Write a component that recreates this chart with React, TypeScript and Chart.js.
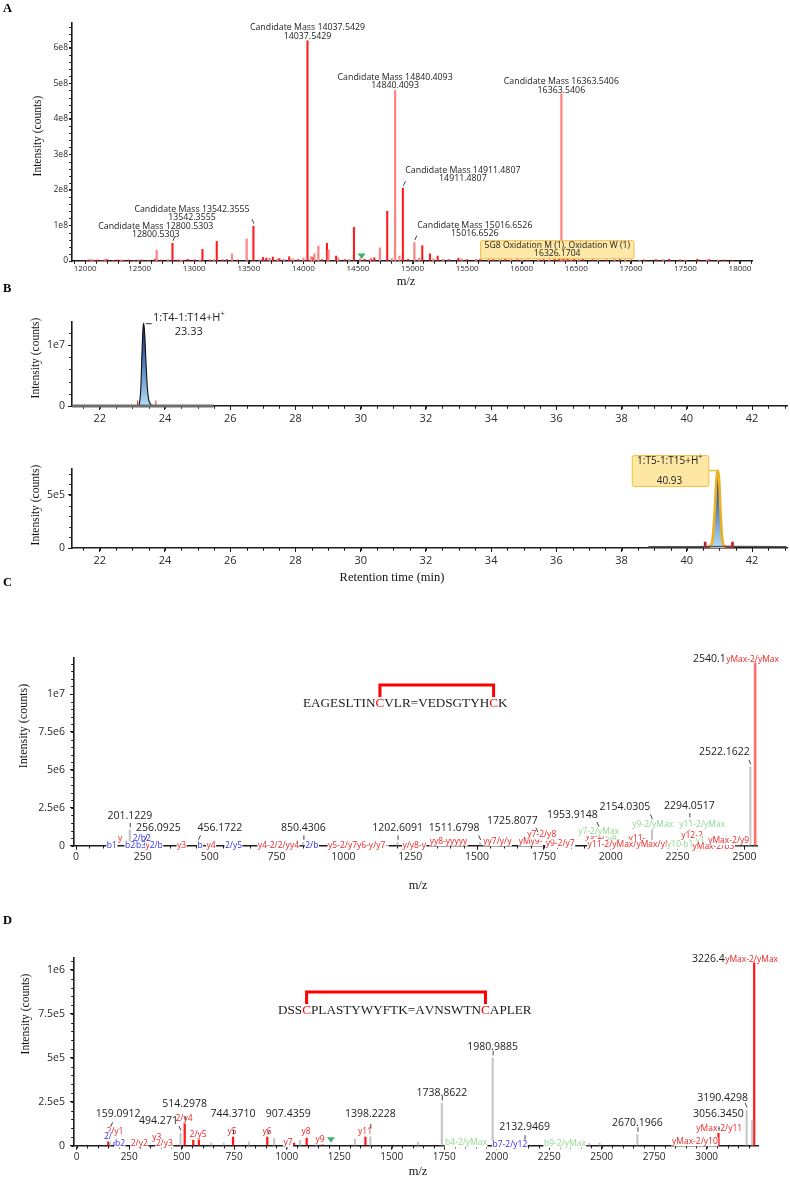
import React, { useEffect, useRef } from "react";
import { Chart, registerables } from "chart.js";

Chart.register(...registerables);

const SANS = '"Open Sans", "Noto Sans", "DejaVu Sans", sans-serif';
const SERIF = '"Liberation Serif", "Times New Roman", serif';
const AXIS = "#1c1c1c";
const TICK_TXT = "#2a2a2a";
const RED = "#f02323";
const BLUE = "#2e2ef2";
const GREEN = "#8fd98f";

// ================= Panel A : deconvoluted intact-mass spectrum =================
const A_X_TICKS = [12000, 12500, 13000, 13500, 14000, 14500, 15000, 15500, 16000, 16500, 17000, 17500, 18000];
const A_Y_TICKS = [0, 1e8, 2e8, 3e8, 4e8, 5e8, 6e8];
const A_RED_MZ = [12010, 12040, 12080, 12110, 12150, 12200, 12260, 12300, 12350, 12400, 12450, 12520, 12580, 12640, 12700, 12800.5303, 12850, 12900, 12940, 13000, 13075, 13140, 13206, 13260, 13300, 13400, 13542.3555, 13630, 13660, 13720, 13780, 13870, 13950, 14037.5429, 14090, 14170, 14216, 14300, 14380, 14463, 14560, 14620, 14650, 14768, 14911.4807, 14960, 15089, 15160, 15230, 15330, 15420, 15500, 15620, 15740, 15850, 15960, 16060, 16200, 16300, 16340, 16380, 16420, 16480, 16560, 16650, 16780, 16900, 17000, 17120, 17230, 17350, 17450, 17610, 17720, 17850, 17930];
const A_RED_INT = [2e6, 3e6, 2e6, 3e6, 2e6, 4e6, 2e6, 3e6, 2e6, 3e6, 2e6, 3e6, 2e6, 5e6, 3e6, 5e7, 3e6, 2e6, 5e6, 3e6, 3.3e7, 3e6, 5.5e7, 3e6, 4e6, 3e6, 9.8e7, 1e7, 8e6, 1.1e7, 7e6, 1.2e7, 4e6, 6.2e8, 1e7, 4e6, 5e7, 1.4e7, 4e6, 9.5e7, 5e6, 6e6, 9e6, 1.4e8, 2.05e8, 5e6, 4.3e7, 2e7, 1.4e7, 4e6, 8e6, 4e6, 5e6, 4e6, 6e6, 4e6, 3e6, 4e6, 6e6, 7e6, 6e6, 8e6, 6e6, 5e6, 4e6, 3e6, 4e6, 3e6, 3e6, 4e6, 5e6, 3e6, 5e6, 4e6, 3e6, 2e6];
const A_PINK_MZ = [12060, 12180, 12330, 12490, 12656, 12760, 12880, 13050, 13180, 13346, 13480, 13600, 13690, 13760, 13820, 13900, 14000, 14070, 14100, 14137, 14230, 14320, 14420, 14520, 14610, 14701, 14810, 14840.4093, 14880, 15016.6526, 15060, 15190, 15280, 15450, 15580, 15700, 15800, 15900, 16000, 16150, 16250, 16363.5406, 16400, 16450, 16520, 16700, 16850, 16950, 17080, 17300, 17500, 17700, 17800];
const A_PINK_INT = [4e6, 5e6, 3e6, 4e6, 3e7, 4e6, 3e6, 3e6, 4e6, 2e7, 6.2e7, 4e6, 8e6, 6e6, 5e6, 6e6, 8e6, 1.2e7, 2e7, 4.2e7, 3.1e7, 8e6, 5e6, 6e6, 5e6, 3.7e7, 7e6, 4.8e8, 1.4e7, 5.2e7, 8e6, 6e6, 5e6, 6e6, 5e6, 6e6, 5e6, 5e6, 4e6, 5e6, 5e6, 4.71e8, 7e6, 6e6, 5e6, 4e6, 5e6, 4e6, 3e6, 4e6, 3e6, 4e6, 3e6];
const A_CAND_MASS = [14037.5429, 14840.4093, 16363.5406, 14911.4807, 15016.6526, 13542.3555, 12800.5303];
const A_CAND_INT = [6.2e8, 4.8e8, 4.71e8, 2.05e8, 5.2e7, 9.8e7, 5e7];
const A_MOD_NAME = "5G8 Oxidation M (1), Oxidation W (1)";
const A_MOD_MASS = 16326.1704;
const A_MARKER_MZ = 14533;

// ================= Panel B : extracted ion chromatograms =================
const B_X_TICKS = [22, 24, 26, 28, 30, 32, 34, 36, 38, 40, 42];
const B_TOP_Y_TICKS = [0, 1e7];
const B_BOT_Y_TICKS = [0, 5e5];
const B_TOP_NAME = "1:T4-1:T14+H";
const B_TOP_RT = 23.33;
const B_TOP_T = [23.18, 23.22, 23.26, 23.3, 23.33, 23.35, 23.38, 23.42, 23.46, 23.5, 23.56, 23.64];
const B_TOP_INT = [0, 5e5, 3e6, 9.5e6, 1.3e7, 1.36e7, 1.18e7, 7e6, 3e6, 1.1e6, 3e5, 0];
const B_TOP_BASE_T = [21.15, 25.48];
const B_TOP_BASE_INT = [0, 0];
const B_TOP_INTEG_T = [23.16, 23.16, 23.72, 23.72];
const B_TOP_INTEG_INT = [9e5, 0, 0, 9e5];
const B_BOT_NAME = "1:T5-1:T15+H";
const B_BOT_RT = 40.93;
const B_BOT_T = [40.7, 40.76, 40.81, 40.86, 40.91, 40.95, 40.99, 41.03, 41.07, 41.12, 41.18];
const B_BOT_INT = [1.5e4, 4e4, 1.5e5, 3.8e5, 6.6e5, 7.3e5, 6.4e5, 3.6e5, 1.3e5, 3e4, 1.5e4];
const B_BOT_BASE_T = [38.82, 40.0, 41.5, 43.05];
const B_BOT_BASE_INT = [1.2e4, 1.2e4, 1.5e4, 1.2e4];
const B_BOT_INTEG_T = [40.56, 40.56, 41.4, 41.4];
const B_BOT_INTEG_INT = [6e4, 1e4, 1e4, 6e4];

// ================= Panel C : MS/MS of EAGESLTINCVLR=VEDSGTYHCK =================
const C_PEPTIDE = "EAGESLTINCVLR=VEDSGTYHCK";
const C_LINKED = [9, 22];
const C_X_TICKS = [0, 250, 500, 750, 1000, 1250, 1500, 1750, 2000, 2250, 2500];
const C_Y_TICKS = [0, 2.5e6, 5e6, 7.5e6, 1e7];
const C_GRAY_MZ = [201.1229, 256.0925, 456.1722, 850.4306, 1202.6091, 1511.6798, 1725.8077, 1953.9148, 2154.0305, 2294.0517, 2522.1622];
const C_GRAY_INT = [1.05e6, 2.2e5, 2.2e5, 2.2e5, 2.2e5, 2.2e5, 7.2e5, 1.1e6, 1.6e6, 1.7e6, 5.2e6];
const C_MAX_MZ = [2540.1];
const C_MAX_INT = [1.206e7];
const C_MAX_ION = "yMax-2/yMax";
const C_ION_TEXT = ["y", "2/b2", "b1", "b2", "b3", "y2", "2/b", "y3", "b", "y4", "2/y5", "y4-2/2/yy4", "2/b", "y5-2/y7y6-y/y7-", "y/y8-y", "yy8-yyyyy", "yy7/y/y", "yMy9-", "y9-2/y7", "y7-2/y8", "y9-2/y8", "y7-2/yMax", "y8-", "y11-", "y11-2/yMax/yMax/yMa", "y9-2/yMax", "y12-2", "y11-2/yMax", "y10-", "b1", "y1", "yMax-2/b3", "yMax-2/y9"];
const C_ION_MZ = [165, 246, 134, 202, 243, 277, 300, 395, 464, 505, 589, 757, 882, 1055, 1265, 1393, 1576, 1700, 1811, 1742, 1960, 1955, 2011, 2098, 2081, 2157, 2304, 2342, 2242, 2290, 2335, 2384, 2441];
const C_ION_COLOR = [RED, BLUE, BLUE, BLUE, BLUE, RED, BLUE, RED, BLUE, RED, BLUE, RED, BLUE, RED, RED, RED, RED, RED, RED, RED, RED, GREEN, GREEN, RED, RED, GREEN, RED, GREEN, GREEN, GREEN, GREEN, RED, RED];

// ================= Panel D : MS/MS of DSSCPLASTYWYFTK=AVNSWTNCAPLER =================
const D_PEPTIDE = "DSSCPLASTYWYFTK=AVNSWTNCAPLER";
const D_LINKED = [3, 23];
const D_X_TICKS = [0, 250, 500, 750, 1000, 1250, 1500, 1750, 2000, 2250, 2500, 2750, 3000];
const D_Y_TICKS = [0, 2.5e5, 5e5, 7.5e5, 1e6];
const D_GRAY_MZ = [159.0912, 300, 494.271, 640, 700, 820, 940, 1064, 1140, 1325, 1398.2228, 1625, 1738.8622, 1980.9885, 2132.9469, 2440, 2490, 2670.1966, 3190.4298, 3217];
const D_GRAY_INT = [9.3e4, 2.5e4, 7.2e4, 1.5e4, 1.5e4, 2e4, 4e4, 3e4, 2e4, 3.8e4, 8.4e4, 2e4, 2.43e5, 5.0e5, 2e4, 1.2e4, 1.5e4, 6.5e4, 2.03e5, 1.46e5];
const D_RED_MZ = [150, 514.2978, 555, 582, 744.371, 907.4359, 1035, 1095, 1170, 1375, 3056.345, 3226.4];
const D_RED_INT = [4e4, 1.29e5, 3e4, 6.5e4, 5e4, 5e4, 1.5e4, 4.4e4, 1.5e4, 5e4, 7e4, 1.04e6];
const D_BLUE_MZ = [180, 215];
const D_BLUE_INT = [2e4, 1.5e4];
const D_MAX_MZ = [3226.4];
const D_MAX_INT = [1.04e6];
const D_MAX_ION = "yMax-2/yMax";
const D_LABEL_MZ = [159.0912, 494.271, 514.2978, 744.371, 907.4359, 1398.2228, 1738.8622, 1980.9885, 2132.9469, 2670.1966, 3056.345, 3190.4298];
const D_LABEL_INT = [9.3e4, 7.2e4, 1.29e5, 5e4, 5e4, 8.4e4, 2.43e5, 5.0e5, 2e4, 6.5e4, 7e4, 2.03e5];
const D_LABEL_TEXT = ["159.0912", "494.271", "514.2978", "744.3710", "907.4359", "1398.2228", "1738.8622", "1980.9885", "2132.9469", "2670.1966", "3056.3450", "3190.4298"];
const D_ION_TEXT = ["2/y1", "2/", "b2", "2/y2", "y3", "2/y3", "2/y4", "2/y5", "y5", "y6", "y7", "y8", "y9", "y11", "b4-2/yMax", "b7-2/y12", "b9-2/yMax", "yMax-2/y11", "yMax-2/y10"];
const D_ION_MZ = [182, 149, 206, 298, 382, 417, 511, 578, 740, 906, 1006, 1092, 1159, 1373, 1854, 2063, 2325, 3060, 2944];
const D_ION_COLOR = [RED, BLUE, BLUE, RED, RED, RED, RED, RED, RED, RED, RED, RED, RED, RED, GREEN, BLUE, GREEN, RED, RED];
const D_MARKER_MZ = 1211;

// ----------------- layout / style tables (pixels) -----------------
const A_CAND_LAYOUT = [
  { dx: 0, dy1: -13, dy2: -4.6, lead: 0 },
  { dx: 0, dy1: -13, dy2: -5, lead: 0 },
  { dx: 0, dy1: -12, dy2: -3.6, lead: 0 },
  { dx: 60, dy1: -18, dy2: -10, lead: 1 },
  { dx: 60.5, dy1: -17.5, dy2: -9.5, lead: 1 },
  { dx: -61.5, dy1: -17, dy2: -8.5, lead: -1 },
  { dx: -16.7, dy1: -17, dy2: -8.5, lead: 1 },
];
const C_LABEL_DX = [0, 14, 22, 0, 0, -26, -25, -26, -27, 0, -26];
const C_LABEL_GAP = [14, 14, 14, 14, 14, 14, 14, 14, 14, 14, 15];
const C_ION_DY = [-7.4, -7.4, 0, 0, 0, 0, 0, 0, 0, 0, 0, 0, 0, 0, 0, -4, -4, -4, -2.4, -10.7, -9, -14, -6.4, -6.7, -1, -20.7, -10, -20.7, -1, -1, -4.7, 1, -5];
const D_LABEL_DX = [8, -22, 0, 0, 21, 0, 0, 0, 0, 0, 0, -24];
const D_LABEL_GAP = [15, 12, 19, 23, 23, 17, 10, 11, 15.5, 11, 19, 11.7];
const D_ION_DY = [-14, -8.7, -2.4, -2.4, -7.7, -2.4, -26.7, -10.7, -13.7, -13.7, -2.7, -13.7, -5.7, -13.7, -2.7, -0.7, -2.4, -17.4, -4];

// ----------------- helpers -----------------
function sci(v: number): string {
  if (v === 0) return "0";
  const e = Math.floor(Math.log10(Math.abs(v)) + 1e-9);
  const m = Math.round((v / Math.pow(10, e)) * 100) / 100;
  return `${m}e${e}`;
}
function pts(xs: number[], ys: number[]) {
  return xs.map((x, i) => ({ x, y: ys[i] }));
}
function argmax(a: number[]) {
  let k = 0;
  a.forEach((v, i) => {
    if (v > a[k]) k = i;
  });
  return k;
}

type AxisOpt = { min: number; max: number; ticks: number[]; size: number; tl: number; pad: number; fmt: (v: number) => string };

function xAxis(o: AxisOpt & { height: number }) {
  return {
    type: "linear",
    position: "bottom",
    min: o.min,
    max: o.max,
    offset: false,
    afterBuildTicks: (s: any) => {
      s.ticks = o.ticks.map((value) => ({ value }));
    },
    afterFit: (s: any) => {
      s.height = o.height;
    },
    grid: { display: true, offset: false, drawOnChartArea: false, drawTicks: true, tickLength: o.tl, tickColor: AXIS, tickWidth: 1 },
    border: { display: true, color: AXIS, width: 1.6 },
    ticks: { autoSkip: false, maxRotation: 0, minRotation: 0, padding: o.pad, color: TICK_TXT, font: { family: SANS, size: o.size }, callback: (v: any) => o.fmt(Number(v)) },
    title: { display: false },
  };
}
function yAxis(o: AxisOpt & { width: number }) {
  return {
    type: "linear",
    position: "left",
    min: o.min,
    max: o.max,
    afterBuildTicks: (s: any) => {
      s.ticks = o.ticks.map((value) => ({ value }));
    },
    afterFit: (s: any) => {
      s.width = o.width;
    },
    grid: { display: true, drawOnChartArea: false, drawTicks: true, tickLength: o.tl, tickColor: AXIS, tickWidth: 1 },
    border: { display: true, color: AXIS, width: 1.6 },
    ticks: { autoSkip: false, padding: o.pad, color: TICK_TXT, font: { family: SANS, size: o.size }, callback: (v: any) => o.fmt(Number(v)) },
    title: { display: false },
  };
}
function baseOptions(pad: { top: number; right: number }, xs: any, ys: any) {
  return {
    responsive: false,
    maintainAspectRatio: false,
    animation: false,
    devicePixelRatio: 1,
    events: [],
    layout: { padding: { top: pad.top, right: pad.right, left: 0, bottom: 0 } },
    plugins: { legend: { display: false }, tooltip: { enabled: false }, title: { display: false } },
    scales: { x: xs, y: ys },
  };
}
function minorTicks(xStep: number, yStep: number, len = 2.5) {
  return {
    id: "minorTicks",
    beforeDatasetsDraw(chart: any) {
      const { ctx, chartArea: a, scales } = chart;
      const x = scales.x;
      const y = scales.y;
      ctx.save();
      ctx.strokeStyle = AXIS;
      ctx.lineWidth = 1;
      ctx.beginPath();
      for (let n = Math.ceil(x.min / xStep); n <= Math.floor(x.max / xStep); n++) {
        const px = Math.round(x.getPixelForValue(n * xStep)) + 0.5;
        ctx.moveTo(px, a.bottom);
        ctx.lineTo(px, a.bottom + len + 0.8);
      }
      for (let m = Math.ceil(y.min / yStep); m <= Math.floor(y.max / yStep); m++) {
        const py = Math.round(y.getPixelForValue(m * yStep)) + 0.5;
        ctx.moveTo(a.left, py);
        ctx.lineTo(a.left - len - 0.8, py);
      }
      ctx.stroke();
      ctx.restore();
    },
  };
}
function drawYTitle(ctx: CanvasRenderingContext2D, cx: number, cy: number, size: number) {
  ctx.save();
  ctx.translate(cx, cy);
  ctx.rotate(-Math.PI / 2);
  ctx.font = `${size}px ${SERIF}`;
  ctx.fillStyle = "#111";
  ctx.textAlign = "center";
  ctx.textBaseline = "middle";
  ctx.fillText("Intensity (counts)", 0, 0);
  ctx.restore();
}
function drawXTitle(ctx: CanvasRenderingContext2D, text: string, cx: number, cy: number, size: number) {
  ctx.save();
  ctx.font = `${size}px ${SERIF}`;
  ctx.fillStyle = "#111";
  ctx.textAlign = "center";
  ctx.textBaseline = "middle";
  ctx.fillText(text, cx, cy);
  ctx.restore();
}
function leader(ctx: CanvasRenderingContext2D, px: number, top: number, dir: number) {
  ctx.save();
  ctx.strokeStyle = "#444";
  ctx.lineWidth = 1;
  ctx.beginPath();
  ctx.moveTo(px + 0.5, top - 2.5);
  ctx.lineTo(px + 0.5 + dir * 2, top - 7);
  ctx.stroke();
  ctx.restore();
}
function drawTriangle(ctx: CanvasRenderingContext2D, px: number, py: number) {
  ctx.save();
  ctx.fillStyle = "#3cb371";
  ctx.beginPath();
  ctx.moveTo(px - 4, py - 3);
  ctx.lineTo(px + 4, py - 3);
  ctx.lineTo(px, py + 2.5);
  ctx.closePath();
  ctx.fill();
  ctx.restore();
}
function drawPeptide(ctx: CanvasRenderingContext2D, seq: string, linked: number[], left: number, cy: number) {
  ctx.save();
  ctx.font = `13.2px ${SERIF}`;
  ctx.textBaseline = "middle";
  ctx.textAlign = "left";
  const centers: number[] = [];
  let x = left;
  for (let i = 0; i < seq.length; i++) {
    const ch = seq[i];
    const w = ctx.measureText(ch).width;
    ctx.fillStyle = linked.includes(i) ? "#ff0000" : "#1a1a1a";
    ctx.fillText(ch, x, cy);
    if (linked.includes(i)) centers.push(x + w / 2);
    x += w;
  }
  ctx.strokeStyle = "#ff0000";
  ctx.lineWidth = 3;
  ctx.lineJoin = "miter";
  ctx.beginPath();
  ctx.moveTo(centers[0], cy - 7);
  ctx.lineTo(centers[0], cy - 19);
  ctx.lineTo(centers[1], cy - 19);
  ctx.lineTo(centers[1], cy - 7);
  ctx.stroke();
  ctx.restore();
}
function drawIons(chart: any, texts: string[], mzs: number[], dys: number[], colors: string[]) {
  const { ctx, chartArea: a, scales } = chart;
  ctx.save();
  ctx.font = `8.5px ${SANS}`;
  ctx.textAlign = "center";
  ctx.textBaseline = "middle";
  texts.forEach((t, i) => {
    const px = scales.x.getPixelForValue(mzs[i]);
    const py = a.bottom + dys[i];
    const w = ctx.measureText(t).width;
    ctx.fillStyle = "#ffffff";
    ctx.fillRect(px - w / 2 - 0.5, py - 4.5, w + 1, 9);
    ctx.fillStyle = colors[i];
    ctx.fillText(t, px, py);
  });
  ctx.restore();
}
function drawNumLabels(chart: any, mzs: number[], ints: number[], texts: string[], dxs: number[], gaps: number[]) {
  const { ctx, scales } = chart;
  ctx.save();
  ctx.font = `10.5px ${SANS}`;
  ctx.fillStyle = "#222";
  ctx.textAlign = "center";
  ctx.textBaseline = "middle";
  mzs.forEach((m, i) => {
    const px = scales.x.getPixelForValue(m);
    const top = scales.y.getPixelForValue(ints[i]);
    ctx.fillText(texts[i], px + dxs[i], top - gaps[i]);
    leader(ctx, px, top, Math.sign(dxs[i]));
  });
  ctx.restore();
}
function drawMaxLabel(chart: any, mz: number, inten: number, ion: string) {
  const { ctx, scales } = chart;
  const px = scales.x.getPixelForValue(mz);
  const top = scales.y.getPixelForValue(inten);
  ctx.save();
  ctx.textBaseline = "middle";
  ctx.textAlign = "right";
  ctx.font = `10.5px ${SANS}`;
  ctx.fillStyle = "#222";
  ctx.fillText(mz.toFixed(1), px - 29.5, top - 4);
  ctx.textAlign = "left";
  ctx.font = `8.5px ${SANS}`;
  ctx.fillStyle = RED;
  ctx.fillText(ion, px - 29, top - 3.5);
  ctx.restore();
}

// ----------------- chart builders -----------------
function buildA() {
  const notes = {
    id: "notesA",
    afterDraw(chart: any) {
      const { ctx, chartArea: a, scales } = chart;
      const x = scales.x;
      const y = scales.y;
      ctx.save();
      ctx.font = `8.8px ${SANS}`;
      ctx.fillStyle = "#222";
      ctx.textAlign = "center";
      ctx.textBaseline = "middle";
      A_CAND_MASS.forEach((m, i) => {
        const o = A_CAND_LAYOUT[i];
        const px = x.getPixelForValue(m);
        const top = y.getPixelForValue(A_CAND_INT[i]);
        ctx.fillText(`Candidate Mass ${m.toFixed(4)}`, px + o.dx, top + o.dy1);
        ctx.fillText(m.toFixed(4), px + o.dx, top + o.dy2);
        if (o.lead !== 0) leader(ctx, px, top, o.lead);
      });
      // modification box
      const bx = x.getPixelForValue(A_MOD_MASS);
      ctx.font = `8.6px ${SANS}`;
      const w = ctx.measureText(A_MOD_NAME).width + 8;
      const bt = a.bottom - 20.3;
      ctx.fillStyle = "#fde8a8";
      ctx.strokeStyle = "#f2bf4c";
      ctx.lineWidth = 1;
      ctx.beginPath();
      ctx.roundRect(bx - w / 2, bt, w, 18, 1.5);
      ctx.fill();
      ctx.stroke();
      ctx.fillStyle = "#222";
      ctx.fillText(A_MOD_NAME, bx, bt + 5);
      ctx.fillText(A_MOD_MASS.toFixed(4), bx, bt + 13.2);
      drawTriangle(ctx, x.getPixelForValue(A_MARKER_MZ), a.bottom - 4.5);
      drawYTitle(ctx, 37.5, 136, 11.5);
      drawXTitle(ctx, "m/z", 406, 282, 12.5);
      ctx.restore();
    },
  };
  return {
    type: "bar",
    data: {
      datasets: [
        { data: pts(A_PINK_MZ, A_PINK_INT), backgroundColor: "#ff8585", barThickness: 1.6, grouped: false, borderWidth: 0 },
        { data: pts(A_RED_MZ, A_RED_INT), backgroundColor: "#ff1a1a", barThickness: 1.4, grouped: false, borderWidth: 0 },
      ],
    },
    options: baseOptions(
      { top: 23, right: 38 },
      xAxis({ min: 11880, max: 18110, ticks: A_X_TICKS, size: 8, tl: 3, pad: 0, fmt: (v) => String(v), height: 31 }),
      yAxis({ min: 0, max: 6.7e8, ticks: A_Y_TICKS, size: 8.5, tl: 3, pad: 1, fmt: sci, width: 72 })
    ),
    plugins: [minorTicks(100, 2e7, 2), notes],
  };
}

function gradientFill(peakMax: number) {
  return (c: any) => {
    const chart = c.chart;
    if (!chart.chartArea) return "rgba(0,0,0,0)";
    const y = chart.scales.y;
    const g = chart.ctx.createLinearGradient(0, y.getPixelForValue(peakMax), 0, y.getPixelForValue(0));
    g.addColorStop(0, "#14215c");
    g.addColorStop(0.45, "#4a78bd");
    g.addColorStop(1, "#b4dcf7");
    return g;
  };
}

function buildBTop() {
  const notes = {
    id: "notesBTop",
    afterDraw(chart: any) {
      const { ctx, scales } = chart;
      const i = argmax(B_TOP_INT);
      const ax = scales.x.getPixelForValue(B_TOP_T[i]);
      const ay = scales.y.getPixelForValue(B_TOP_INT[i]);
      ctx.save();
      ctx.strokeStyle = "#333";
      ctx.lineWidth = 1;
      ctx.beginPath();
      ctx.moveTo(ax + 2, ay + 0.5);
      ctx.lineTo(ax + 8, ay + 0.5);
      ctx.stroke();
      ctx.fillStyle = "#222";
      ctx.textBaseline = "middle";
      ctx.textAlign = "left";
      ctx.font = `11px ${SANS}`;
      const lx = ax + 9.3;
      const ly = ay - 5.6;
      ctx.fillText(B_TOP_NAME, lx, ly);
      const w = ctx.measureText(B_TOP_NAME).width;
      ctx.font = `7px ${SANS}`;
      ctx.fillText("+", lx + w + 0.5, ly - 4);
      ctx.font = `11px ${SANS}`;
      ctx.textAlign = "center";
      ctx.fillText(B_TOP_RT.toFixed(2), ax + 45, ay + 8.7);
      drawYTitle(ctx, 35.7, 66, 11.5);
      ctx.restore();
    },
  };
  return {
    type: "line",
    data: {
      datasets: [
        { data: pts(B_TOP_BASE_T, B_TOP_BASE_INT), borderColor: "#6e6e6e", borderWidth: 3, pointRadius: 0, fill: false, clip: false },
        { data: pts(B_TOP_T, B_TOP_INT), borderColor: "#111", borderWidth: 1.1, pointRadius: 0, fill: "origin", backgroundColor: gradientFill(1.36e7), tension: 0.4, cubicInterpolationMode: "monotone", clip: false },
        { data: pts(B_TOP_INTEG_T, B_TOP_INTEG_INT), borderColor: "#e03a3a", borderWidth: 1.1, pointRadius: 0, fill: false, tension: 0, clip: false },
      ],
    },
    options: baseOptions(
      { top: 30, right: 3 },
      xAxis({ min: 21.15, max: 43.07, ticks: B_X_TICKS, size: 11, tl: 4, pad: 2, fmt: (v) => String(v), height: 30 }),
      yAxis({ min: 0, max: 1.38e7, ticks: B_TOP_Y_TICKS, size: 10.5, tl: 4, pad: 3, fmt: sci, width: 72 })
    ),
    plugins: [minorTicks(0.5, 2e6, 2), notes],
  };
}

function buildBBot() {
  const notes = {
    id: "notesBBot",
    afterDraw(chart: any) {
      const { ctx, scales } = chart;
      const i = argmax(B_BOT_INT);
      const ax = scales.x.getPixelForValue(B_BOT_T[i]);
      const ay = scales.y.getPixelForValue(B_BOT_INT[i]);
      ctx.save();
      const bw = 76.6;
      const bh = 31;
      const br = ax - 9;
      const bt = ay - 15;
      ctx.strokeStyle = "#f0b93c";
      ctx.lineWidth = 1.5;
      ctx.beginPath();
      ctx.moveTo(br, ay);
      ctx.lineTo(ax - 1, ay);
      ctx.stroke();
      ctx.fillStyle = "#fde7a2";
      ctx.strokeStyle = "#f2bd45";
      ctx.lineWidth = 1;
      ctx.beginPath();
      ctx.roundRect(br - bw, bt, bw, bh, 2);
      ctx.fill();
      ctx.stroke();
      ctx.fillStyle = "#222";
      ctx.textBaseline = "middle";
      ctx.font = `10px ${SANS}`;
      const w = ctx.measureText(B_BOT_NAME).width;
      ctx.font = `6.5px ${SANS}`;
      const sw = ctx.measureText("+").width;
      const cx = br - bw / 2 - 1;
      const startX = cx - (w + sw) / 2;
      ctx.textAlign = "left";
      ctx.font = `10px ${SANS}`;
      ctx.fillText(B_BOT_NAME, startX, ay - 9);
      ctx.font = `6.5px ${SANS}`;
      ctx.fillText("+", startX + w + 0.3, ay - 13);
      ctx.font = `10px ${SANS}`;
      ctx.textAlign = "center";
      ctx.fillText(B_BOT_RT.toFixed(2), cx, ay + 10.3);
      drawYTitle(ctx, 35.7, 69, 11.5);
      drawXTitle(ctx, "Retention time (min)", 392, 142, 12.5);
      ctx.restore();
    },
  };
  return {
    type: "line",
    data: {
      datasets: [
        { data: pts(B_BOT_BASE_T, B_BOT_BASE_INT), borderColor: "#555", borderWidth: 1.3, pointRadius: 0, fill: false, clip: false },
        { data: pts(B_BOT_T, B_BOT_INT), borderColor: "#ecb021", borderWidth: 2.6, pointRadius: 0, fill: "origin", backgroundColor: gradientFill(7.3e5), tension: 0.4, cubicInterpolationMode: "monotone", clip: false },
        { data: pts(B_BOT_T, B_BOT_INT), borderColor: "#2a1c08", borderWidth: 1, pointRadius: 0, fill: false, tension: 0.4, cubicInterpolationMode: "monotone", clip: false },
        { data: pts(B_BOT_INTEG_T, B_BOT_INTEG_INT), borderColor: "#c21d2a", borderWidth: 2.6, pointRadius: 0, fill: false, tension: 0, clip: false },
      ],
    },
    options: baseOptions(
      { top: 33, right: 3 },
      xAxis({ min: 21.15, max: 43.07, ticks: B_X_TICKS, size: 11, tl: 4, pad: 2, fmt: (v) => String(v), height: 42 }),
      yAxis({ min: 0, max: 7.45e5, ticks: B_BOT_Y_TICKS, size: 10.5, tl: 4, pad: 3, fmt: sci, width: 72 })
    ),
    plugins: [minorTicks(0.5, 1e5, 2), notes],
  };
}

function buildC() {
  const notes = {
    id: "notesC",
    afterDraw(chart: any) {
      const { ctx } = chart;
      drawIons(chart, C_ION_TEXT, C_ION_MZ, C_ION_DY, C_ION_COLOR);
      drawNumLabels(chart, C_GRAY_MZ, C_GRAY_INT, C_GRAY_MZ.map((m) => m.toFixed(4)), C_LABEL_DX, C_LABEL_GAP);
      drawMaxLabel(chart, C_MAX_MZ[0], C_MAX_INT[0], C_MAX_ION);
      drawPeptide(ctx, C_PEPTIDE, C_LINKED, 303, 114);
      drawYTitle(ctx, 24, 136, 12);
      drawXTitle(ctx, "m/z", 418, 296, 12.5);
    },
  };
  return {
    type: "bar",
    data: {
      datasets: [
        { data: pts(C_GRAY_MZ, C_GRAY_INT), backgroundColor: "#c4c4c4", barThickness: 1.4, grouped: false, borderWidth: 0 },
        { data: pts(C_MAX_MZ, C_MAX_INT), backgroundColor: "#ff7272", barThickness: 2, grouped: false, borderWidth: 0 },
      ],
    },
    options: baseOptions(
      { top: 67.3, right: 33 },
      xAxis({ min: -7.5, max: 2547, ticks: C_X_TICKS, size: 10.5, tl: 4, pad: 1, fmt: (v) => String(v), height: 54.3 }),
      yAxis({ min: 0, max: 1.242e7, ticks: C_Y_TICKS, size: 10.5, tl: 4, pad: 5, fmt: sci, width: 74 })
    ),
    plugins: [minorTicks(50, 5e5, 2), notes],
  };
}

function buildD() {
  const notes = {
    id: "notesD",
    afterDraw(chart: any) {
      const { ctx, chartArea: a, scales } = chart;
      drawIons(chart, D_ION_TEXT, D_ION_MZ, D_ION_DY, D_ION_COLOR);
      drawTriangle(ctx, scales.x.getPixelForValue(D_MARKER_MZ), a.bottom - 5.5);
      drawNumLabels(chart, D_LABEL_MZ, D_LABEL_INT, D_LABEL_TEXT, D_LABEL_DX, D_LABEL_GAP);
      drawMaxLabel(chart, D_MAX_MZ[0], D_MAX_INT[0], D_MAX_ION);
      drawPeptide(ctx, D_PEPTIDE, D_LINKED, 278, 111);
      drawYTitle(ctx, 25.5, 114, 11.5);
      drawXTitle(ctx, "m/z", 418, 272, 12.5);
    },
  };
  return {
    type: "bar",
    data: {
      datasets: [
        { data: pts(D_GRAY_MZ, D_GRAY_INT), backgroundColor: "#c4c4c4", barThickness: 1.4, grouped: false, borderWidth: 0 },
        { data: pts(D_BLUE_MZ, D_BLUE_INT), backgroundColor: "#3a3af0", barThickness: 1.4, grouped: false, borderWidth: 0 },
        { data: pts(D_RED_MZ, D_RED_INT), backgroundColor: "#ff1a1a", barThickness: 1.6, grouped: false, borderWidth: 0 },
      ],
    },
    options: baseOptions(
      { top: 57.3, right: 31.7 },
      xAxis({ min: -12.9, max: 3246, ticks: D_X_TICKS, size: 10, tl: 4, pad: 1, fmt: (v) => String(v), height: 33.3 }),
      yAxis({ min: 0, max: 1.072e6, ticks: D_Y_TICKS, size: 10.5, tl: 4, pad: 5, fmt: sci, width: 74 })
    ),
    plugins: [minorTicks(50, 5e4, 2), notes],
  };
}

// ----------------- components -----------------
function ChartCanvas({ top, height, make }: { top: number; height: number; make: () => any }) {
  const ref = useRef<HTMLCanvasElement | null>(null);
  useEffect(() => {
    if (!ref.current) return;
    const chart = new Chart(ref.current, make());
    return () => chart.destroy();
  }, [make]);
  return (
    <canvas
      ref={ref}
      width={790}
      height={height}
      style={{ position: "absolute", left: 0, top, width: 790, height, display: "block" }}
    />
  );
}

function Letter({ text, top }: { text: string; top: number }) {
  return (
    <div
      style={{
        position: "absolute",
        left: 3,
        top,
        fontFamily: SERIF,
        fontWeight: "bold",
        fontSize: 12.5,
        lineHeight: "13px",
        color: "#000",
        zIndex: 2,
      }}
    >
      {text}
    </div>
  );
}

export default function App() {
  return (
    <div style={{ position: "absolute", left: 0, top: 0, width: 790, height: 1179, background: "#fff", overflow: "hidden" }}>
      <ChartCanvas top={0} height={292} make={buildA} />
      <ChartCanvas top={292} height={144} make={buildBTop} />
      <ChartCanvas top={436} height={154} make={buildBBot} />
      <ChartCanvas top={590} height={310} make={buildC} />
      <ChartCanvas top={900} height={279} make={buildD} />
      <Letter text="A" top={2} />
      <Letter text="B" top={281.5} />
      <Letter text="C" top={576} />
      <Letter text="D" top={914} />
    </div>
  );
}
